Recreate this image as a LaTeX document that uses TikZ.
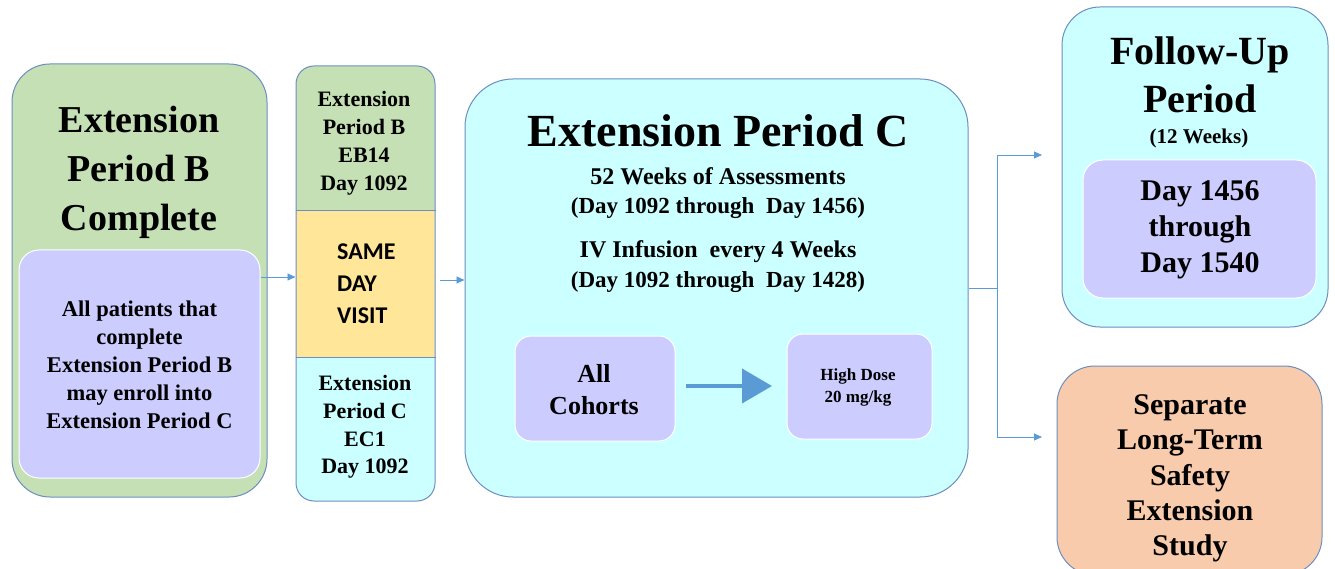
\documentclass[tikz,border=0pt]{standalone}
\usepackage{fontspec}
\setmainfont{Liberation Serif}
\newfontfamily\calibfont{Carlito}
\usetikzlibrary{arrows.meta}

\definecolor{boxline}{RGB}{109,142,191}
\definecolor{greenfill}{RGB}{197,224,180}
\definecolor{purplefill}{RGB}{204,204,255}
\definecolor{cyanfill}{RGB}{204,255,255}
\definecolor{yellowfill}{RGB}{255,230,153}
\definecolor{peachfill}{RGB}{248,203,173}
\definecolor{arrowblue}{RGB}{91,155,213}

\tikzset{
  outerbox/.style={draw=boxline, line width=1pt, rounded corners=38pt, inner sep=0pt},
  innerbox/.style={draw=white, line width=1pt, fill=purplefill, rounded corners=20pt, inner sep=0pt},
  link/.style={draw=arrowblue, line width=0.9pt, -{Triangle[length=8pt,width=7pt]}},
  txt/.style={font=\bfseries, align=center, inner sep=0pt},
}

\begin{document}
\begin{tikzpicture}[x=1pt,y=1pt,yscale=-1,xscale=1]
\clip (0,0) rectangle (1335,569);

%Shape: Rounded Rectangle -- Extension Period B Complete
\node[outerbox, fill=greenfill, minimum width=255pt, minimum height=433pt] (extB) at (139.5,280.5) {};
\node[innerbox, minimum width=241pt, minimum height=228pt] (enrol) at (139.5,364) {};

%Shape: Column -- same day visit
\begin{scope}
\clip[rounded corners=18pt] (296,66) rectangle (435,501);
\fill[greenfill] (296,66) rectangle (435,211);
\fill[yellowfill] (296,211) rectangle (435,357);
\fill[cyanfill] (296,357) rectangle (435,501);
\end{scope}
\node[draw=boxline, line width=1pt, rounded corners=18pt, minimum width=139pt, minimum height=435pt] (visit) at (365.5,283.5) {};
\draw[boxline, line width=1pt] (visit.west |- 0,211) -- (visit.east |- 0,211);
\draw[boxline, line width=1pt] (visit.west |- 0,357) -- (visit.east |- 0,357);

%Shape: Rounded Rectangle -- Extension Period C
\node[outerbox, rounded corners=48pt, fill=cyanfill, minimum width=503pt, minimum height=418pt] (extC) at (716.5,288) {};
\node[innerbox, rounded corners=16pt, minimum width=160pt, minimum height=105pt] (cohorts) at (595,388.5) {};
\node[innerbox, rounded corners=16pt, minimum width=145pt, minimum height=105pt] (dose) at (859.5,386.5) {};

%Shape: Rounded Rectangle -- Follow-Up
\node[outerbox, fill=cyanfill, minimum width=266pt, minimum height=320pt] (followup) at (1195,167) {};
\node[innerbox, minimum width=233pt, minimum height=138pt] (days) at (1199.5,229) {};

%Shape: Rounded Rectangle -- Long-Term study
\node[outerbox, fill=peachfill, minimum width=265pt, minimum height=209pt] (study) at (1189.5,470.5) {};

%Straight Lines -- arrows
\coordinate (visitout) at (440,280);
\draw[link] (enrol.east |- 0,277) -- (visit.west |- 0,277);
\draw[link] (visitout) -- (visitout -| extC.west);
\coordinate (thickA) at (686,386);
\coordinate (thickB) at (772,386);
\draw[arrowblue, line width=4pt, -{Triangle[length=30pt,width=34pt]}] (thickA) -- (thickB);
\coordinate (split) at (997,288);
\coordinate (fuend) at (1042,155);
\coordinate (studyend) at (1042,437);
\draw[arrowblue, line width=0.9pt] (extC.east) -- (split);
\draw[arrowblue, line width=0.9pt] (fuend -| split) -- (studyend -| split);
\draw[link] (fuend -| split) -- (fuend);
\draw[link] (studyend -| split) -- (studyend);

% Text Node
\node[txt, font=\fontsize{38}{49}\selectfont\bfseries] (extBtitle) at (139,172) {Extension\\Period B\\Complete};
% Text Node
\node[txt, font=\fontsize{22.5}{28}\selectfont\bfseries] (enroltext) at (139.5,365) {All patients that\\complete\\Extension Period B\\may enroll into\\Extension Period C};
% Text Node
\node[txt, font=\fontsize{22}{28}\selectfont\bfseries] (eb14) at (364,143) {Extension\\Period B\\EB14\\Day 1092};
% Text Node
\node[txt, align=left, anchor=west, font=\calibfont\fontsize{24}{32}\selectfont\bfseries] (same) at (337,284) {SAME\\DAY\\VISIT};
% Text Node
\node[txt, font=\fontsize{22}{27.7}\selectfont\bfseries] (ec1) at (365,427) {Extension\\Period C\\EC1\\Day 1092};
% Text Node
\node[txt, font=\fontsize{46}{50}\selectfont\bfseries] (extCtitle) at (718,131) {Extension Period C};
% Text Node
\node[txt, font=\fontsize{24}{32}\selectfont\bfseries] (assess) at (718,176) {52 Weeks of Assessments};
\node[txt, font=\fontsize{23}{32}\selectfont\bfseries] (assessdays) at (718,208) {(Day 1092 through\ \ Day 1456)};
% Text Node
\node[txt, font=\fontsize{24}{30}\selectfont\bfseries] (infusion) at (718,252) {IV Infusion\ \ every 4 Weeks};
\node[txt, font=\fontsize{23}{30}\selectfont\bfseries] (infusiondays) at (718,282) {(Day 1092 through\ \ Day 1428)};
% Text Node
\node[txt, font=\fontsize{26}{32}\selectfont\bfseries] (cohortstext) at (594,390) {All\\Cohorts};
% Text Node
\node[txt, font=\fontsize{17}{22}\selectfont\bfseries] (dosetext) at (858,387) {High Dose\\20 mg/kg};
% Text Node
\node[txt, font=\fontsize{40}{48}\selectfont\bfseries] (futitle) at (1200,75) {Follow-Up\\Period};
% Text Node
\node[txt, font=\fontsize{21}{22}\selectfont\bfseries] (weeks) at (1199,138) {(12 Weeks)};
% Text Node
\node[txt, font=\fontsize{30}{36}\selectfont\bfseries] (daystext) at (1200,230) {Day 1456\\through\\Day 1540};
% Text Node
\node[txt, font=\fontsize{30}{35.25}\selectfont\bfseries] (studytext) at (1190,478.5) {Separate\\Long-Term\\Safety\\Extension\\Study};

\end{tikzpicture}
\end{document}
